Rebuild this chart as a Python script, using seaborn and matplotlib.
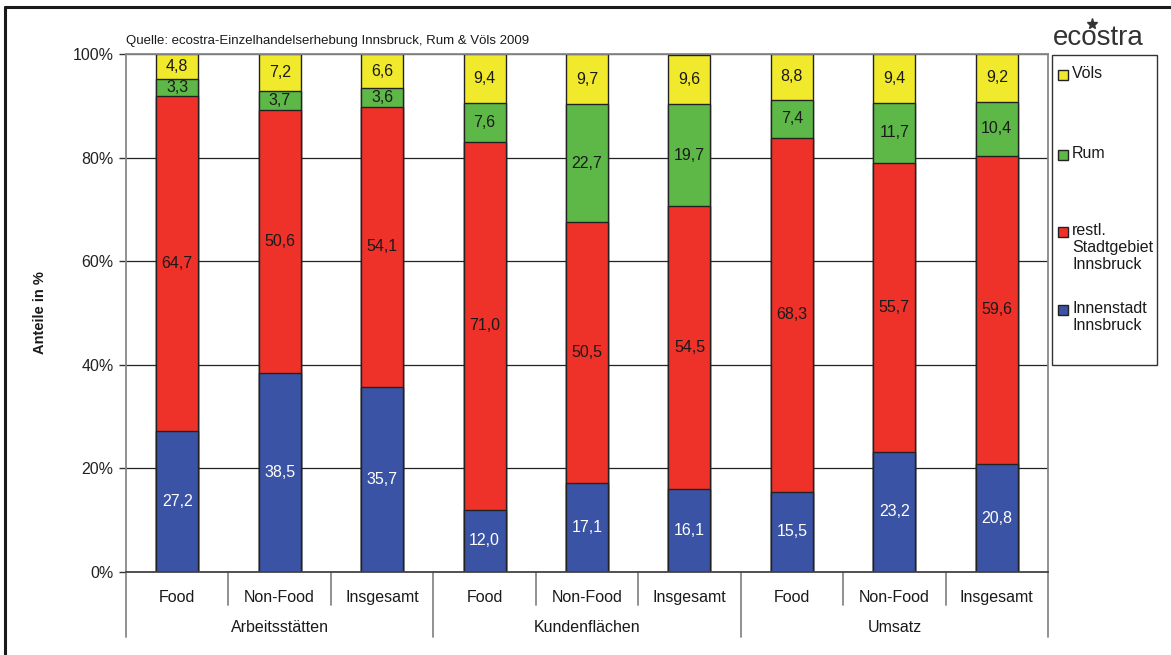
import matplotlib
matplotlib.use("Agg")
import matplotlib.pyplot as plt
import matplotlib.transforms as mtransforms
from matplotlib.patches import Rectangle
from matplotlib.lines import Line2D
import seaborn as sns
import pandas as pd
import numpy as np

# ---------------- data ----------------
groups = ["Arbeitsstätten", "Kundenflächen", "Umsatz"]
subcats = ["Food", "Non-Food", "Insgesamt"]
innenstadt = [27.2, 38.5, 35.7, 12.0, 17.1, 16.1, 15.5, 23.2, 20.8]
restl = [64.7, 50.6, 54.1, 71.0, 50.5, 54.5, 68.3, 55.7, 59.6]
rum = [3.3, 3.7, 3.6, 7.6, 22.7, 19.7, 7.4, 11.7, 10.4]
voels = [4.8, 7.2, 6.6, 9.4, 9.7, 9.6, 8.8, 9.4, 9.2]
series_names = ["Innenstadt\nInnsbruck", "restl.\nStadtgebiet\nInnsbruck", "Rum", "Völs"]
colors = ["#3A53A4", "#EE3129", "#5DB847", "#F1E92C"]
label_colors = ["white", "#1a1a1a", "#1a1a1a", "#1a1a1a"]
yticks = [0, 20, 40, 60, 80, 100]
source = "Quelle: ecostra-Einzelhandelserhebung Innsbruck, Rum & Völs 2009"

sns.set_style("white")
plt.rcParams["font.family"] = ["Liberation Sans", "DejaVu Sans"]

W, H = 1171, 655
fig = plt.figure(figsize=(W / 100, H / 100), dpi=100)
fig.patch.set_facecolor("white")
ax = fig.add_axes([126 / W, 1 - 572 / H, 922 / W, 518 / H])

keys = [f"{g}|{s}" for g in groups for s in subcats]
series = [innenstadt, restl, rum, voels]
cum = np.cumsum(np.array(series), axis=0)
df = pd.DataFrame({"key": keys})
for i, name in enumerate(series_names):
    df[f"top{i}"] = cum[i]
    df[f"val{i}"] = series[i]

# draw from top-most cumulative down so lower segments overlay
for i in reversed(range(4)):
    sns.barplot(data=df, x="key", y=f"top{i}", order=keys, color=colors[i],
                width=0.41, edgecolor="#222222", linewidth=1.0, saturation=1,
                ax=ax, zorder=2)

# segment labels
for j in range(len(keys)):
    bottom = 0.0
    for i in range(4):
        v = series[i][j]
        ax.text(j, bottom + v / 2, f"{v:.1f}".replace(".", ","), ha="center",
                va="center", fontsize=11.5, color=label_colors[i], zorder=5)
        bottom += v

ax.set_xlim(-0.5, len(keys) - 0.5)
ax.set_ylim(0, 100)
ax.set_yticks(yticks)
ax.set_yticklabels([f"{t}%" for t in yticks], fontsize=11.5, color="#222222")
ax.tick_params(axis="y", direction="out", length=5, width=1, color="#333333", pad=4, left=True)
ax.set_xticks(range(len(keys)))
ax.set_xticklabels([s for g in groups for s in subcats], fontsize=11.5, color="#1a1a1a")
ax.tick_params(axis="x", length=0, pad=13)
ax.set_xlabel("")
ax.set_ylabel("Anteile in %", fontsize=10.5, fontweight="bold", color="#1a1a1a")
ax.yaxis.set_label_coords(-0.086, 0.5)

ax.set_axisbelow(True)
ax.yaxis.grid(True, color="#222222", linewidth=0.9)
ax.xaxis.grid(False)
for side in ["left", "right", "top"]:
    ax.spines[side].set_visible(True)
    ax.spines[side].set_color("#888888")
    ax.spines[side].set_linewidth(1.3)
ax.spines["bottom"].set_color("#444444")
ax.spines["bottom"].set_linewidth(1.3)

# category separators and group labels
trans = mtransforms.blended_transform_factory(ax.transData, ax.transAxes)
for b in range(len(keys) + 1):
    x = b - 0.5
    depth = -65 / 518 if b % 3 == 0 else -33 / 518
    ax.add_line(Line2D([x, x], [0, depth], transform=trans, color="#888888",
                       linewidth=1.3, clip_on=False))
for gi, g in enumerate(groups):
    ax.text(gi * 3 + 1, -56 / 518, g, transform=trans, ha="center", va="center",
            fontsize=11.5, color="#1a1a1a")

# source note
fig.text(126 / W, 1 - 41 / H, source, ha="left", va="center", fontsize=9.5, color="#1a1a1a")

# logo
fig.text(1053 / W, 1 - 45 / H, "ecostra", ha="left", va="baseline", fontsize=20, color="#333333")
fig.add_artist(Line2D([1092 / W], [1 - 24 / H], transform=fig.transFigure, marker="*",
                      markersize=8, color="#333333", linestyle="none"))

# legend (manual, entries evenly spaced by first line)
fig.patches.append(Rectangle((1052 / W, 1 - 365 / H), 105 / W, 310 / H, transform=fig.transFigure,
                             facecolor="white", edgecolor="#333333", linewidth=1.0))
leg_y = [310, 232, 155, 75]
for i in range(4):
    y = leg_y[i]
    fig.patches.append(Rectangle((1058 / W, 1 - (y + 5) / H), 10 / W, 10 / H,
                                 transform=fig.transFigure, facecolor=colors[i],
                                 edgecolor="#222222", linewidth=1.0))
    fig.text(1072 / W, 1 - (y - 9) / H, series_names[i], ha="left", va="top",
             fontsize=11.5, color="#1a1a1a", linespacing=1.15)

# figure frame (top and left)
fig.add_artist(Line2D([5 / W, 1], [1 - 7 / H, 1 - 7 / H], transform=fig.transFigure,
                      color="#1a1a1a", linewidth=2.2))
fig.add_artist(Line2D([5 / W, 5 / W], [0, 1 - 7 / H], transform=fig.transFigure,
                      color="#1a1a1a", linewidth=2.2))

fig.savefig("out.png", dpi=100)
